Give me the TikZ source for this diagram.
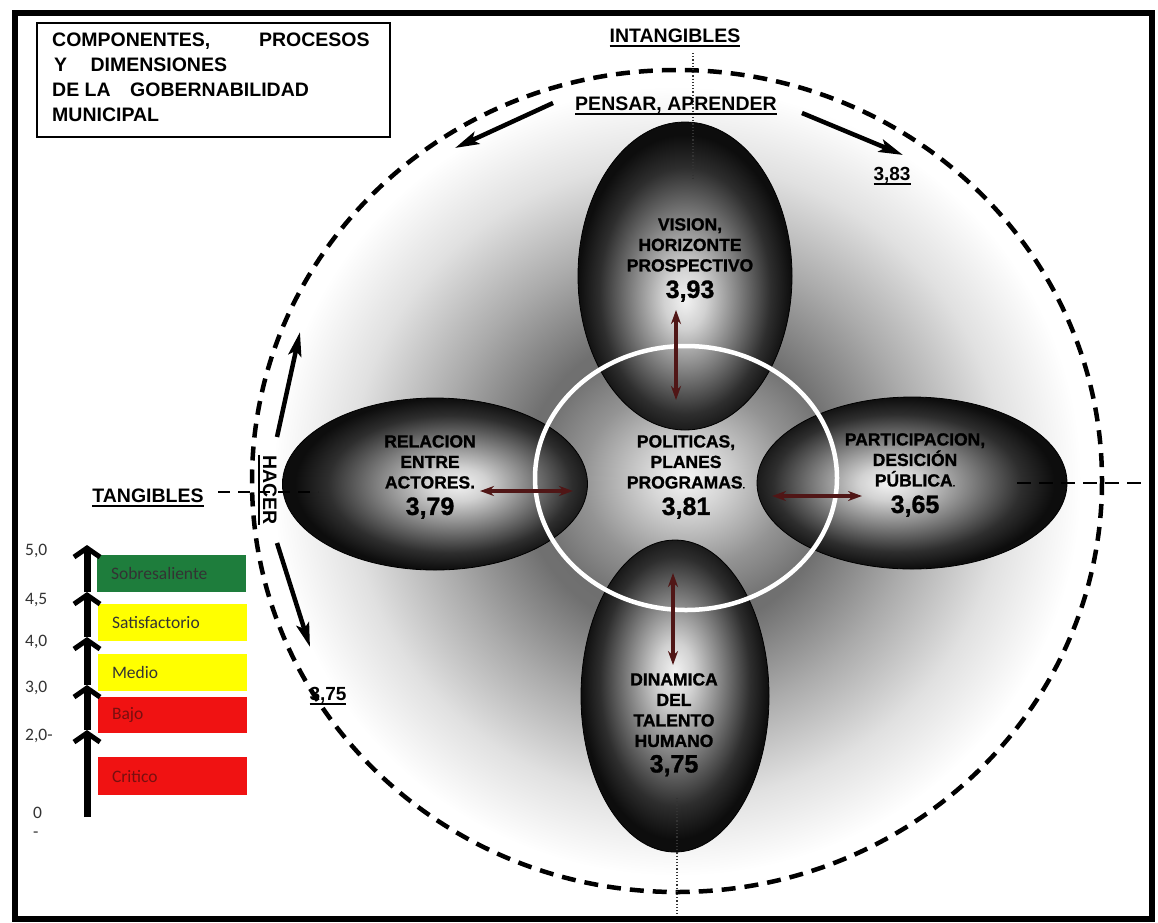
\documentclass[tikz,border=0pt]{standalone}
\usepackage{fontspec}
\setmainfont{Liberation Sans}
\newfontfamily\legfont{Carlito}
\newfontfamily\heavyfont[FakeBold=1.2]{Liberation Sans Bold}
\usetikzlibrary{shapes.geometric,arrows.meta}

\definecolor{arrowred}{RGB}{80,22,22}
\definecolor{goodgreen}{RGB}{30,125,60}
\definecolor{levyellow}{RGB}{255,255,0}
\definecolor{levred}{RGB}{240,18,18}
\definecolor{darkred}{RGB}{120,15,15}

\pgfdeclareradialshading{bgshade}{\pgfpoint{0bp}{0bp}}{color(0bp)=(black!60); color(9bp)=(black!56); color(14bp)=(black!33); color(19bp)=(black!12); color(23.5bp)=(white); color(50bp)=(white)}
\pgfdeclareradialshading{hubshade}{\pgfpoint{0bp}{0bp}}{color(0bp)=(black!4); color(6bp)=(black!16); color(17bp)=(black!42); color(25bp)=(black!55); color(50bp)=(black!55)}
\pgfdeclareradialshading{ovalshade}{\pgfpoint{0bp}{-4bp}}{color(0bp)=(black!5); color(5bp)=(black!18); color(13bp)=(black!52); color(20bp)=(black!82); color(25bp)=(black!95); color(50bp)=(black!95)}

\newcommand\undl[1]{\setbox0\hbox{#1}\makebox[0pt][l]{\rule[-5pt]{\wd0}{2pt}}\box0}

\tikzstyle{oval}     = [ellipse, draw=black, line width=0.8pt, shade, shading=ovalshade, inner sep=0pt]
\tikzstyle{hub}      = [ellipse, shade, shading=hubshade, minimum width=302pt, minimum height=264pt, inner sep=0pt]
\tikzstyle{ring}     = [ellipse, draw=white, line width=4.5pt, minimum width=302pt, minimum height=264pt, inner sep=0pt]
\tikzstyle{ovaltext} = [align=center, font=\heavyfont\fontsize{17.5}{20.5}\selectfont, inner sep=0pt, anchor=north]
\tikzstyle{link}     = [{Stealth[length=14pt,width=10pt]}-{Stealth[length=14pt,width=10pt]}, line width=4pt, draw=arrowred, fill=arrowred]
\tikzstyle{flow}     = [-{Stealth[length=24pt,width=13pt,inset=5pt]}, line width=4.5pt, black]
\tikzstyle{axislbl}  = [font=\bfseries\fontsize{19.5}{20}\selectfont, inner sep=0pt, anchor=base]
\tikzstyle{axisdot}  = [dotted, line width=1.2pt, black!80]
\tikzstyle{level}    = [minimum width=149pt, minimum height=37pt, text width=121pt, inner xsep=14pt, inner ysep=0pt, align=left, font=\legfont\fontsize{17.5}{18}\selectfont]
\tikzstyle{scalelbl} = [anchor=west, inner sep=0pt, font=\legfont\fontsize{17.5}{18}\selectfont, text=black!80]
\tikzstyle{climb}    = [-{Straight Barb[length=9pt,width=26pt,line width=5pt]}, line width=7pt]

\begin{document}
\begin{tikzpicture}[x=1pt,y=-1pt]
	\useasboundingbox (0,0) rectangle (1158,922);
	\fill[white] (0,0) rectangle (1158,922);

	% grey halo behind the components
	\shade[shading=bgshade] (677,481) ellipse [x radius=430, y radius=420];
	\node[hub] (hub) at (686,478) {};

	% the four components
	\node[oval, shading angle=0, minimum width=214pt, minimum height=308pt] (vision) at (685,276) {};
	\node[oval, shading angle=180, minimum width=188pt, minimum height=312pt] (talento) at (675,696) {};
	\node[oval, shading angle=90, minimum width=305pt, minimum height=172pt] (actores) at (435,484) {};
	\node[oval, shading angle=270, minimum width=310pt, minimum height=172pt] (publica) at (912,483) {};
	\node[ring] (hubring) at (686,478) {};

	% outer cycle
	\draw[line width=4.5pt, dash pattern=on 14pt off 9pt] (677,481) ellipse [x radius=425, y radius=411];

	% axes
	\coordinate (vtopa) at (693,53);
	\coordinate (vtopb) at (693,178);
	\coordinate (vbota) at (677,798);
	\coordinate (vbotb) at (677,919);
	\coordinate (hlefta) at (218,492);
	\coordinate (hleftb) at (318,492);
	\coordinate (hrighta) at (1017,483);
	\coordinate (hrightb) at (1148,483);
	\draw[axisdot] (vtopa) -- (vtopb);
	\draw[axisdot] (vbota) -- (vbotb);
	\draw[line width=2pt, dash pattern=on 12pt off 8pt] (hlefta) -- (hleftb);
	\draw[line width=2.5pt, dash pattern=on 14pt off 8pt] (hrighta) -- (hrightb);

	% texts of the components
	\node[ovaltext] (visiontxt) at (690,218) {VISION,\\HORIZONTE\\PROSPECTIVO\\[6pt]{\fontsize{25}{25}\selectfont 3,93}};
	\node[ovaltext] (hubtxt) at (686,435) {POLITICAS,\\PLANES\\PROGRAMAS{\fontsize{9}{9}\selectfont .}\\[6pt]{\fontsize{25}{25}\selectfont 3,81}};
	\node[ovaltext] (actorestxt) at (430,435) {RELACION\\ENTRE\\ACTORES.\\[6pt]{\fontsize{25}{25}\selectfont 3,79}};
	\node[ovaltext] (publicatxt) at (915,433) {PARTICIPACION,\\DESICIÓN\\PÚBLICA{\fontsize{9}{9}\selectfont .}\\[6pt]{\fontsize{25}{25}\selectfont 3,65}};
	\node[ovaltext] (talentotxt) at (674,673) {DINAMICA\\DEL\\TALENTO\\HUMANO\\[5pt]{\fontsize{25}{25}\selectfont 3,75}};

	% links to the centre
	\coordinate (la) at (676,310);
	\coordinate (lb) at (676,400);
	\coordinate (lc) at (673,573);
	\coordinate (ld) at (673,665);
	\coordinate (le) at (480,491);
	\coordinate (lf) at (573,491);
	\coordinate (lg) at (772,496);
	\coordinate (lh) at (862,496);
	\draw[link] (la) -- (lb);
	\draw[link] (lc) -- (ld);
	\draw[link] (le) -- (lf);
	\draw[link] (lg) -- (lh);

	% movement arrows
	\coordinate (fa) at (553,103);
	\coordinate (fb) at (455,148);
	\coordinate (fc) at (802,113);
	\coordinate (fd) at (903,155);
	\coordinate (fe) at (277,437);
	\coordinate (ff) at (300,332);
	\coordinate (fg) at (277,543);
	\coordinate (fh) at (310,647);
	\draw[flow] (fa) -- (fb);
	\draw[flow] (fc) -- (fd);
	\draw[flow] (fe) -- (ff);
	\draw[flow] (fg) -- (fh);

	% axis labels
	\node[axislbl] (intang) at (675,42) {\undl{INTANGIBLES}};
	\node[axislbl] (pensar) at (676,110) {\undl{PENSAR, APRENDER}};
	\node[axislbl] (tang) at (148,502) {\undl{TANGIBLES}};
	\node[axislbl, rotate=-90] (hacer) at (263,490) {\undl{HACER}};
	\node[axislbl, font=\bfseries\fontsize{19}{20}\selectfont] (v383) at (892,180) {\undl{3,83}};
	\node[axislbl, font=\bfseries\fontsize{19}{20}\selectfont] (v375) at (328,700) {\undl{3,75}};

	% title
	\draw[line width=1.5pt] (37,23) rectangle (390,137);
	\node[anchor=north west, inner sep=0pt, align=left, font=\bfseries\fontsize{19.5}{25}\selectfont] (title) at (52,33) {COMPONENTES,\hspace{2.5em}PROCESOS\\\hspace*{0.1em}Y\hspace{1.2em}DIMENSIONES\\DE LA\hspace{1em}GOBERNABILIDAD\\MUNICIPAL};

	% scale
	\node[level, fill=goodgreen, text=black!80] (sob) at (171.5,573.5) {Sobresaliente};
	\node[level, fill=levyellow, text=black!80] (sat) at (172.5,622.5) {Satisfactorio};
	\node[level, fill=levyellow, text=black!80] (med) at (172.5,672.5) {Medio};
	\node[level, fill=levred, text=darkred, minimum height=36pt] (baj) at (172.5,715) {Bajo};
	\node[level, fill=levred, text=darkred, minimum height=38pt] (cri) at (172.5,776) {Critico};

	\node[scalelbl] (s50) at (25,551) {5,0};
	\node[scalelbl] (s45) at (25,600) {4,5};
	\node[scalelbl] (s40) at (25,642) {4,0};
	\node[scalelbl] (s30) at (25,688) {3,0};
	\node[scalelbl] (s20) at (25,736) {2,0-};
	\node[scalelbl] (s00) at (33,813) {0};
	\node[scalelbl] (sdash) at (33,835) {-};

	\coordinate (c0) at (87,817);
	\coordinate (c1) at (87,730);
	\coordinate (c2) at (87,685);
	\coordinate (c3) at (87,637);
	\coordinate (c4) at (87,592);
	\coordinate (c5) at (87,545);
	\draw[climb] (c0) -- (c1);
	\draw[climb] (c1) -- (c2);
	\draw[climb] (c2) -- (c3);
	\draw[climb] (c3) -- (c4);
	\draw[climb] (c4) -- (c5);

	% frame
	\draw[line width=6pt] (15,13) rectangle (1152,919);
\end{tikzpicture}
\end{document}
